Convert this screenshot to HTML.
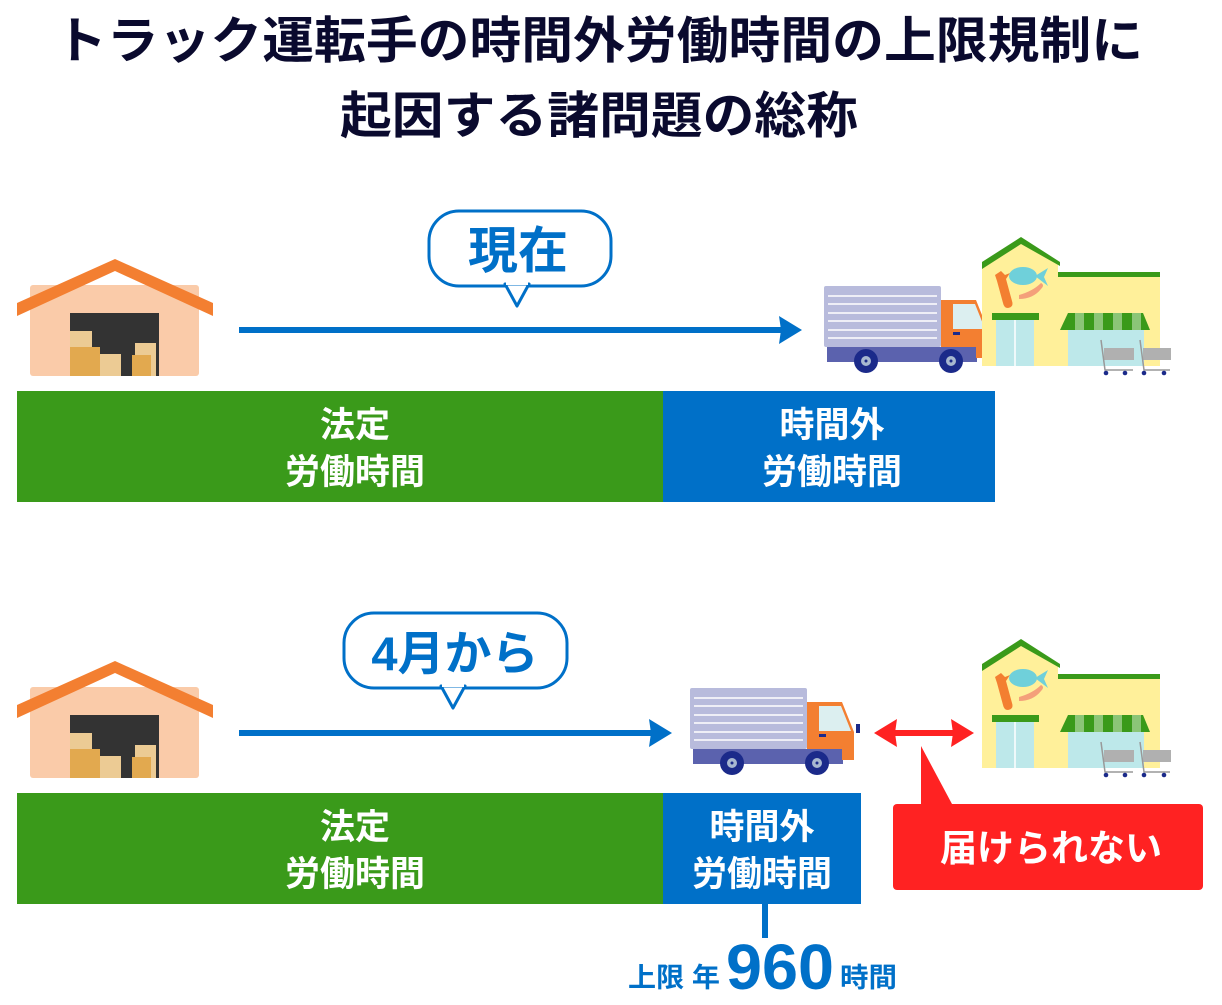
<!DOCTYPE html>
<html><head><meta charset="utf-8"><style>
html,body{margin:0;padding:0;background:#fff;}
svg{display:block;}
text{font-family:"Liberation Sans","Noto Sans CJK JP",sans-serif;font-weight:bold;}
</style></head><body>
<svg width="1222" height="1005" viewBox="0 0 1222 1005" xmlns="http://www.w3.org/2000/svg">
<defs>
<g id="wh">
  <rect x="30" y="285" width="169" height="91" rx="3" fill="#FACBA9"/>
  <polygon points="17,303 115,259 213,303 213,316 115,271 17,316" fill="#F37F31"/>
  <rect x="70" y="313" width="89" height="63" fill="#333"/>
  <rect x="70" y="331" width="22" height="17" fill="#ECCB94"/>
  <rect x="70" y="347" width="30" height="29" fill="#E2A94F"/>
  <rect x="100" y="354" width="21" height="22" fill="#ECCB94"/>
  <rect x="135" y="343" width="21" height="33" fill="#ECCB94"/>
  <rect x="132" y="355" width="19" height="21" fill="#E2A94F"/>
</g>
<g id="tr">
  <rect x="824" y="286" width="117" height="61" rx="2" fill="#B8BBDC"/>
  <g stroke="#fff" stroke-width="1.5">
    <line x1="828" y1="296" x2="937" y2="296"/><line x1="828" y1="304" x2="937" y2="304"/>
    <line x1="828" y1="313" x2="937" y2="313"/><line x1="828" y1="321" x2="937" y2="321"/>
    <line x1="828" y1="330" x2="937" y2="330"/><line x1="828" y1="338" x2="937" y2="338"/>
  </g>
  <rect x="827" y="347" width="150" height="15" fill="#5B62AE"/>
  <path d="M941 300 H976 L988 330 V358 H976 V347 H941 Z" fill="#F37F31"/>
  <path d="M953 304 H975 L985 329 H953 Z" fill="#DCEFF0"/>
  <rect x="953" y="332" width="7" height="3" fill="#1B2A8A"/>
  <rect x="990" y="322" width="4" height="9" fill="#1B2A8A"/>
  <circle cx="866" cy="361" r="12" fill="#1B2A8A"/><circle cx="866" cy="361" r="5" fill="#A8B8D0"/><circle cx="866" cy="361" r="1.5" fill="#1B2A8A"/>
  <circle cx="951" cy="361" r="12" fill="#1B2A8A"/><circle cx="951" cy="361" r="5" fill="#A8B8D0"/><circle cx="951" cy="361" r="1.5" fill="#1B2A8A"/>
</g>
<g id="st">
  <polygon points="982,262 1021,240 1058,262 1058,276 1160,276 1160,366 982,366" fill="#FFF09A"/>
  <polygon points="982,262 1021,237 1060,262 1060,266 1021,244 982,269" fill="#3A9A1A"/>
  <rect x="1058" y="272" width="102" height="5" fill="#3A9A1A"/>
  <path d="M995 275 l6 -4 l4 4 l5 -2 l-4 6 l6 22 q2 6 -4 7 q-4 0 -5 -5 l-6 -22 z" fill="#F37F31"/>
  <ellipse cx="1023" cy="276" rx="14" ry="9" fill="#6FD0DA"/>
  <polygon points="1035,276 1048,268 1044,277 1048,286" fill="#6FD0DA"/>
  <path d="M1019 295 q14 -4 22 -12 q4 2 0 6 q-8 10 -22 10 z" fill="#F4A07A"/>
  <rect x="992" y="313" width="47" height="7" fill="#3A9A1A"/>
  <rect x="996" y="320" width="38" height="46" fill="#BDE8EA"/>
  <line x1="1015" y1="320" x2="1015" y2="366" stroke="#fff" stroke-width="1.5"/>
  <rect x="1068" y="328" width="76" height="38" fill="#BDE8EA"/>
  <path d="M1060 330 L1068 313 H1143 L1150 330 Z" fill="#3A9A1A"/>
  <g fill="#8BC577"><rect x="1075" y="313" width="9" height="17"/><rect x="1094" y="313" width="9" height="17"/><rect x="1113" y="313" width="9" height="17"/><rect x="1132" y="313" width="9" height="17"/></g>
  <g fill="#B0B0B0"><rect x="1104" y="348" width="30" height="12"/><rect x="1143" y="348" width="28" height="12"/></g>
  <g stroke="#999" stroke-width="1.5" fill="none"><path d="M1101 340 l4 30 h28"/><path d="M1140 340 l4 30 h26"/></g>
  <g fill="#1B2A8A"><circle cx="1106" cy="373" r="2.3"/><circle cx="1125" cy="373" r="2.3"/><circle cx="1144" cy="373" r="2.3"/><circle cx="1164" cy="373" r="2.3"/></g>
</g>
</defs>

<text x="55" y="58" font-size="50" fill="#0A0A2E" textLength="1088" lengthAdjust="spacingAndGlyphs">トラック運転手の時間外労働時間の上限規制に</text>
<text x="340" y="133" font-size="50" fill="#0A0A2E" textLength="518" lengthAdjust="spacingAndGlyphs">起因する諸問題の総称</text>

<!-- TOP -->
<use href="#wh"/>
<rect x="429" y="211" width="182" height="75" rx="30" fill="#fff" stroke="#0070C8" stroke-width="3"/>
<polygon points="505,284 517,306 529,284" fill="#fff" stroke="#0070C8" stroke-width="3" stroke-linejoin="round"/>
<rect x="506" y="280" width="22" height="5" fill="#fff"/>
<text x="518" y="268" font-size="50" fill="#0070C8" text-anchor="middle">現在</text>
<line x1="239" y1="330" x2="790" y2="330" stroke="#0070C8" stroke-width="6"/>
<polygon points="779,316 802,330 779,344 781,330" fill="#0070C8"/>
<use href="#tr"/>
<use href="#st"/>
<rect x="17" y="391" width="646" height="111" fill="#3A9A1A"/>
<rect x="663" y="391" width="332" height="111" fill="#0070C8"/>
<g font-size="35" fill="#fff" text-anchor="middle" style="font-weight:500">
<text x="355" y="437">法定</text><text x="355" y="484">労働時間</text>
<text x="832" y="437">時間外</text><text x="832" y="484">労働時間</text>
</g>

<!-- BOTTOM -->
<use href="#wh" transform="translate(0,402)"/>
<rect x="344" y="613" width="223" height="75" rx="30" fill="#fff" stroke="#0070C8" stroke-width="3"/>
<polygon points="441,686 453,708 465,686" fill="#fff" stroke="#0070C8" stroke-width="3" stroke-linejoin="round"/>
<rect x="442" y="682" width="22" height="5" fill="#fff"/>
<text x="455" y="670" font-size="47" fill="#0070C8" text-anchor="middle">4月から</text>
<line x1="239" y1="733" x2="660" y2="733" stroke="#0070C8" stroke-width="6"/>
<polygon points="649,719 672,733 649,747 651,733" fill="#0070C8"/>
<use href="#tr" transform="translate(-134,402)"/>
<use href="#st" transform="translate(0,402)"/>
<line x1="885" y1="733" x2="963" y2="733" stroke="#F22" stroke-width="6"/>
<polygon points="874,733 897,719 895,733 897,747" fill="#F22"/>
<polygon points="974,733 951,719 953,733 951,747" fill="#F22"/>
<path d="M921 746 L921 804 L952 804 Z" fill="#F22"/>
<rect x="893" y="804" width="310" height="86" rx="4" fill="#F22"/>
<text x="1051" y="861" font-size="37" fill="#fff" text-anchor="middle">届けられない</text>
<rect x="17" y="793" width="646" height="111" fill="#3A9A1A"/>
<rect x="663" y="793" width="198" height="111" fill="#0070C8"/>
<g font-size="35" fill="#fff" text-anchor="middle" style="font-weight:500">
<text x="355" y="839">法定</text><text x="355" y="886">労働時間</text>
<text x="762" y="839">時間外</text><text x="762" y="886">労働時間</text>
</g>
<rect x="762" y="904" width="6" height="34" fill="#0070C8"/>
<text x="628" y="987" font-size="27" fill="#0070C8" textLength="92" lengthAdjust="spacingAndGlyphs">上限 年</text>
<text x="726" y="989" font-size="64" fill="#0070C8" textLength="108" lengthAdjust="spacingAndGlyphs">960</text>
<text x="840" y="987" font-size="27" fill="#0070C8" textLength="57" lengthAdjust="spacingAndGlyphs">時間</text>
</svg>
</body></html>
